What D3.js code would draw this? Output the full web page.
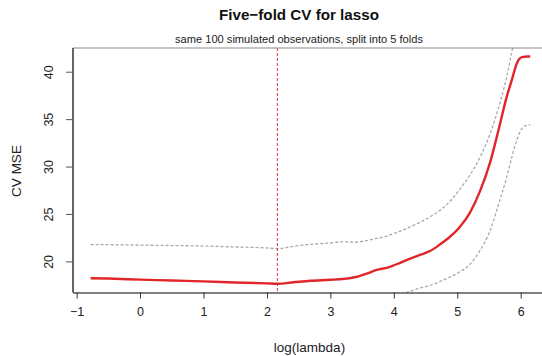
<!DOCTYPE html>
<html>
<head>
<meta charset="utf-8">
<script src="https://cdn.jsdelivr.net/npm/d3@7"></script>
<style>
  html, body { margin: 0; padding: 0; background: #fff; }
  svg { display: block; font-family: "Liberation Sans", Arial, sans-serif; }
</style>
</head>
<body>
<svg id="chart" width="542" height="356"></svg>
<script>
const logLambda = [-0.78, -0.5, 0, 0.5, 1, 1.5, 2, 2.16, 2.42, 2.68, 3.0, 3.2, 3.4, 3.57, 3.73, 3.9, 4.1, 4.26, 4.42, 4.57, 4.73, 4.88, 5.04, 5.2, 5.36, 5.52, 5.65, 5.78, 5.86, 5.94, 6.02, 6.1, 6.15];
const cvMSE = [18.23, 18.19, 18.08, 17.98, 17.89, 17.78, 17.68, 17.64, 17.8, 17.96, 18.06, 18.15, 18.35, 18.7, 19.1, 19.35, 19.85, 20.3, 20.71, 21.09, 21.8, 22.57, 23.63, 25.15, 27.43, 30.5, 33.85, 37.37, 39.13, 40.9, 41.53, 41.6, 41.6];
const cvUpper = [21.77, 21.76, 21.72, 21.67, 21.62, 21.52, 21.42, 21.34, 21.59, 21.8, 21.94, 22.08, 22.02, 22.2, 22.42, 22.7, 23.2, 23.65, 24.15, 24.7, 25.39, 26.3, 27.6, 29.1, 31.0, 33.5, 36.2, 39.48, 42.1, 44.6, 46.4, 47.9, 48.8];
const cvLower = [14.69, 14.62, 14.44, 14.29, 14.16, 14.04, 13.94, 13.94, 14.01, 14.12, 14.18, 14.22, 14.68, 15.2, 15.68, 16.0, 16.5, 16.86, 17.2, 17.46, 17.9, 18.34, 18.9, 19.7, 21.16, 23.28, 26.0, 28.9, 31.0, 32.8, 34.03, 34.35, 34.4];
const bestLogLambda = 2.164;
const xTicks = [-1, 0, 1, 2, 3, 4, 5, 6];
const yTicks = [20, 25, 30, 35, 40];
const titleText = "Five\u2212fold CV for lasso";
const subtitleText = "same 100 simulated observations, split into 5 folds";
const xLabel = "log(lambda)";
const yLabel = "CV MSE";

const svg = d3.select("#chart");
const pL = 73, pR = 548, pT = 48, pB = 292.5;

const x = d3.scaleLinear().domain([-1.057, 6.43]).range([pL, pR]);
const y = d3.scaleLinear().domain([16.72, 42.5]).range([pB, pT]);

svg.append("defs").append("clipPath").attr("id", "plotclip")
  .append("rect").attr("x", pL).attr("y", pT).attr("width", pR - pL).attr("height", pB - pT);

const pts = (arr) => logLambda.map((v, i) => [v, arr[i]]);
const line = d3.line().x(d => x(d[0])).y(d => y(d[1])).curve(d3.curveMonotoneX);

const g = svg.append("g").attr("clip-path", "url(#plotclip)");

g.append("path").datum(pts(cvUpper)).attr("d", line)
  .attr("fill", "none").attr("stroke", "#a8a8a8").attr("stroke-width", 1.3).attr("stroke-dasharray", "3,2");
g.append("path").datum(pts(cvLower)).attr("d", line)
  .attr("fill", "none").attr("stroke", "#a8a8a8").attr("stroke-width", 1.3).attr("stroke-dasharray", "3,2");

g.append("line")
  .attr("x1", x(bestLogLambda)).attr("x2", x(bestLogLambda))
  .attr("y1", pT).attr("y2", pB)
  .attr("stroke", "#d8303a").attr("stroke-width", 1).attr("stroke-dasharray", "3,2");

g.append("path").datum(pts(cvMSE)).attr("d", line)
  .attr("fill", "none").attr("stroke", "#e0262b").attr("stroke-width", 2.4);

// frame
svg.append("line").attr("x1", pL).attr("x2", 542).attr("y1", pT).attr("y2", pT)
  .attr("stroke", "#8a8a8a").attr("stroke-width", 1.2);
svg.append("line").attr("x1", pL).attr("x2", pL).attr("y1", pT).attr("y2", pB)
  .attr("stroke", "#000").attr("stroke-width", 1.2);

// x axis
const xAxis = d3.axisBottom(x).tickValues(xTicks).tickSize(6).tickPadding(9)
  .tickFormat(d => d < 0 ? "\u2212" + Math.abs(d) : String(d));
const gx = svg.append("g").attr("transform", `translate(0,${pB})`).call(xAxis);
gx.select(".domain").attr("d", `M${pL},0.5H542`).attr("stroke", "#000").attr("stroke-width", 1.2);
gx.selectAll(".tick line").attr("stroke", "#333");
gx.selectAll(".tick text").attr("font-size", 12.5).attr("fill", "#222")
  .attr("font-family", "Liberation Sans, Arial, sans-serif");

// y axis
const yAxis = d3.axisLeft(y).tickValues(yTicks).tickSize(7).tickPadding(0);
const gy = svg.append("g").attr("transform", `translate(${pL},0)`).call(yAxis);
gy.select(".domain").remove();
gy.selectAll(".tick line").attr("stroke", "#555");
gy.selectAll(".tick text")
  .attr("font-size", 12.5).attr("fill", "#222")
  .attr("font-family", "Liberation Sans, Arial, sans-serif")
  .attr("x", null).attr("dy", null)
  .attr("text-anchor", "middle")
  .attr("transform", "translate(-24,0) rotate(-90)")
  .attr("y", 0).attr("dominant-baseline", "central");

// titles
svg.append("text").attr("x", 299).attr("y", 20).attr("text-anchor", "middle")
  .attr("font-size", 15.2).attr("font-weight", "bold").attr("fill", "#111").text(titleText);
svg.append("text").attr("x", 299).attr("y", 43).attr("text-anchor", "middle")
  .attr("font-size", 11.1).attr("fill", "#222").text(subtitleText);
svg.append("text").attr("x", 309.5).attr("y", 351.5).attr("text-anchor", "middle")
  .attr("font-size", 13.5).attr("fill", "#222").text(xLabel);
svg.append("text").attr("transform", "translate(20.5,171) rotate(-90)").attr("text-anchor", "middle")
  .attr("font-size", 13.5).attr("fill", "#222").text(yLabel);
</script>
</body>
</html>
